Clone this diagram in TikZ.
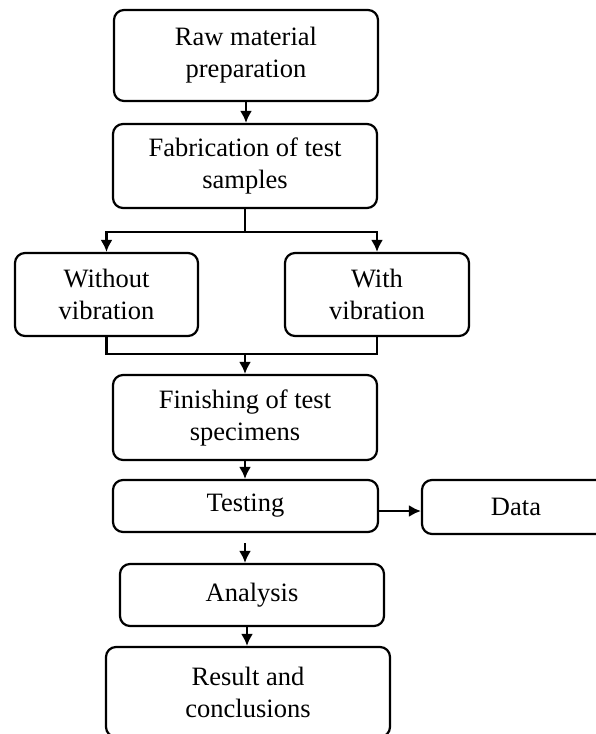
\documentclass[tikz,border=0pt]{standalone}
\usepackage{fontspec}
\setmainfont{Liberation Serif}
\usetikzlibrary{arrows.meta}
\begin{document}
\begin{tikzpicture}[x=1pt,y=-1pt,
  box/.style={draw=black, line width=2.2pt, rounded corners=10pt, align=center,
    inner sep=0pt, font=\fontsize{26.5}{32}\selectfont},
  arr/.style={line width=2.2pt, -{Latex[length=12pt,width=12pt]}},
  ln/.style={line width=2.2pt}]
\useasboundingbox (0,0) rectangle (596,734);
\clip (0,0) rectangle (596,734);
\node[box, minimum width=264pt, minimum height=91pt] (raw) at (246,55.5) {Raw material\\preparation};
\node[box, minimum width=264pt, minimum height=84pt] (fab) at (245,166) {Fabrication of test\\samples};
\node[box, minimum width=183pt, minimum height=83pt] (wo) at (106.5,294.5) {Without\\vibration};
\node[box, minimum width=184pt, minimum height=83pt] (wi) at (377,294.5) {With\\vibration};
\node[box, minimum width=264pt, minimum height=85pt] (fin) at (245,417.5) {Finishing of test\\specimens};
\node[box, minimum width=265pt, minimum height=52pt] (test) at (245.5,506) {Testing};
\node[box, minimum width=188pt, minimum height=54pt] (data) at (516,507) {Data};
\node[box, minimum width=264pt, minimum height=62pt] (ana) at (252,595) {Analysis};
\node[box, minimum width=284pt, minimum height=90pt] (res) at (248,692) {Result and\\conclusions};
\coordinate (j1) at (245,232);
\coordinate (j2) at (245,354);
\coordinate (t1) at (245,543);
\draw[arr] (raw.south) -- (fab.north -| raw.south);
\draw[ln] (fab.south) -- (j1);
\draw[arr] (j1) -| (wo.north);
\draw[arr] (j1) -| (wi.north);
\draw[ln] (wo.south) |- (j2) -| (wi.south);
\draw[arr] (j2) -- (fin.north -| j2);
\draw[arr] (fin.south) -- (test.north -| fin.south);
\draw[arr] (test.east |- 0,511) -- (data.west |- 0,511);
\draw[arr] (t1) -- (ana.north -| t1);
\draw[arr] (ana.south -| 247,0) -- (res.north -| 247,0);
\end{tikzpicture}
\end{document}
